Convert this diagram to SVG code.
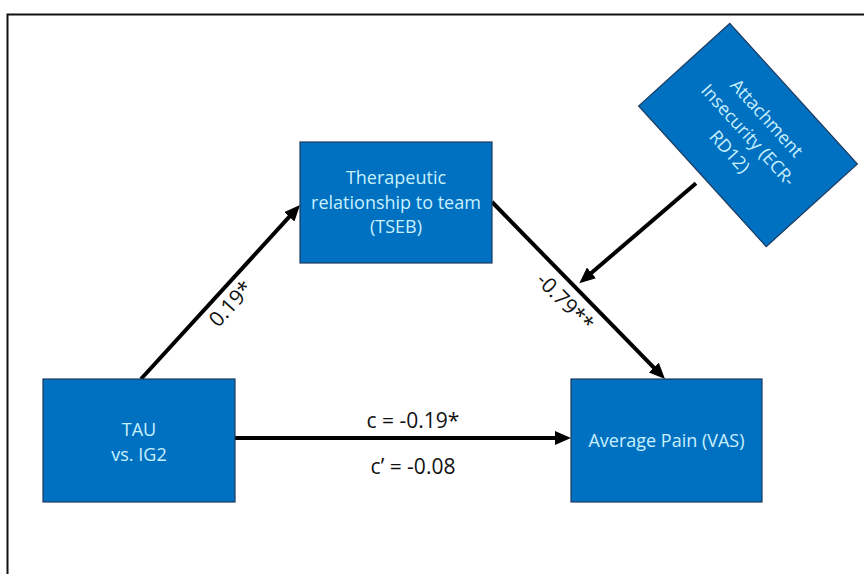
<svg xmlns="http://www.w3.org/2000/svg" width="864" height="574" viewBox="0 0 864 574">
<style>
.box{fill:#0070C0;stroke:#1F3A5F;stroke-width:1.2}
.bt{font-family:"Open Sans","Liberation Sans",sans-serif;font-size:18px;fill:#C8F0FF;text-anchor:middle}
.lbl{font-family:"Open Sans","Liberation Sans",sans-serif;font-size:21px;fill:#111;text-anchor:middle}
.con{stroke:#000;stroke-width:4;fill:none;marker-end:url(#ah)}
</style>
<defs>
<marker id="ah" markerUnits="userSpaceOnUse" viewBox="0 0 16 14" markerWidth="16" markerHeight="14" refX="6" refY="7" orient="auto">
<path d="M0,0 L16,7 L0,14 z" fill="#000"/>
</marker>
</defs>
<rect x="0" y="0" width="864" height="574" fill="#fff"/>
<rect x="7.5" y="14.5" width="880" height="590" fill="none" stroke="#111" stroke-width="2"/>
<g id="connectors">
<line class="con" x1="141" y1="379" x2="293.3" y2="212.4"/>
<line class="con" x1="492" y1="202" x2="658" y2="371.9"/>
<line class="con" x1="696" y1="183.3" x2="586.9" y2="276.8"/>
<line class="con" x1="235" y1="438" x2="561" y2="438"/>
<text class="lbl" transform="translate(231,304) rotate(-47.6)" y="7">0.19*</text>
<text class="lbl" transform="translate(565,302) rotate(45.7)" y="7">-0.79**</text>
<text class="lbl" x="413" y="428">c = -0.19*</text>
<text class="lbl" x="413" y="474">c’ = -0.08</text>
</g>
<g id="tau">
<rect class="box" x="43" y="379" width="192" height="123"/>
<text class="bt" x="139" y="436">TAU</text>
<text class="bt" x="139" y="461">vs. IG2</text>
</g>
<g id="tseb">
<rect class="box" x="300" y="142" width="192" height="121"/>
<text class="bt" x="396" y="184">Therapeutic</text>
<text class="bt" x="396" y="208.5">relationship to team</text>
<text class="bt" x="396" y="233">(TSEB)</text>
</g>
<g id="pain">
<rect class="box" x="571" y="379" width="191" height="123"/>
<text class="bt" x="666.5" y="447">Average Pain (VAS)</text>
</g>
<g id="attachment" transform="translate(748,135) rotate(47.8)">
<rect class="box" x="-95" y="-61.5" width="190" height="123"/>
<text class="bt" x="0" y="-19">Attachment</text>
<text class="bt" x="0" y="6">Insecurity (ECR-</text>
<text class="bt" x="0" y="31">RD12)</text>
</g>
</svg>
